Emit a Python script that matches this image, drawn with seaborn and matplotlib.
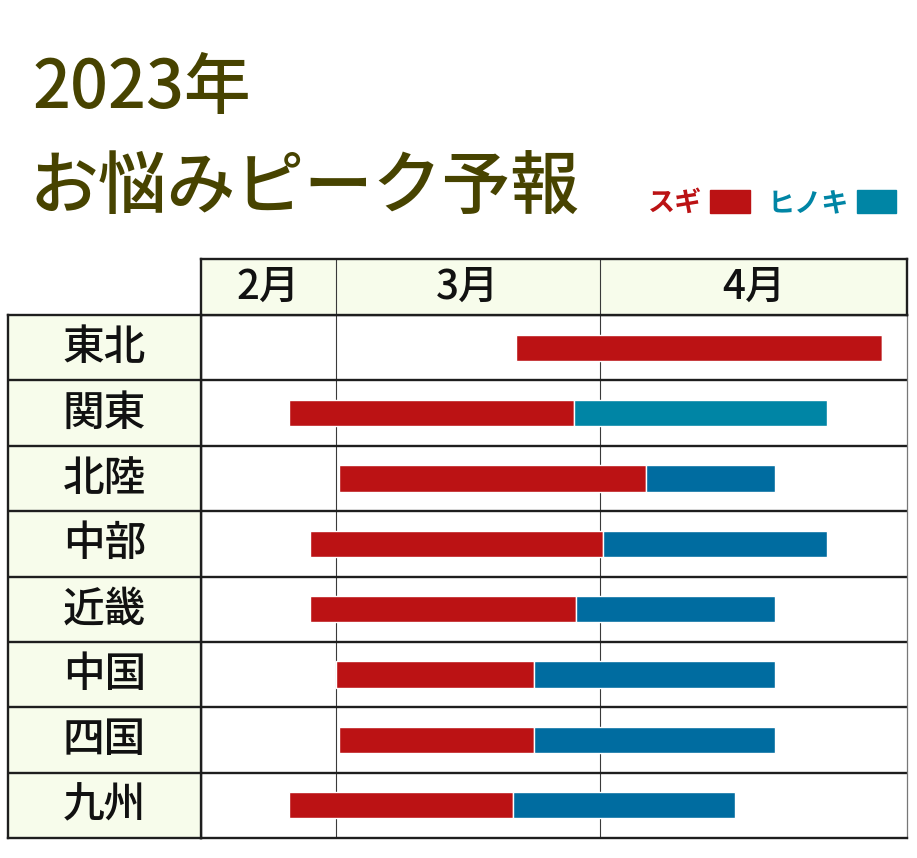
import numpy as np
import matplotlib
matplotlib.use("Agg")
import matplotlib.pyplot as plt
from matplotlib.patches import Patch
import seaborn as sns

# data (month units: 3.5 = middle of March)
regions = ["東北", "関東", "北陸", "中部", "近畿", "中国", "四国", "九州"]
sugi_start = [3.68, 2.65, 3.01, 2.81, 2.81, 3.00, 3.01, 2.65]
sugi_end = [4.92, 3.90, 4.15, 4.01, 3.91, 3.75, 3.75, 3.67]
hinoki_end = [4.92, 4.74, 4.57, 4.74, 4.57, 4.57, 4.57, 4.44]
months = [2, 3, 4]
month_labels = ["2月", "3月", "4月"]
legend_labels = ["スギ", "ヒノキ"]

# style
RED = "#BB1214"
TEAL = "#0085A5"
BLUE = "#006CA0"
PALE = "#F7FCEB"
TITLE_C = "#474300"
LINE_C = "#1E1E1E"
hinoki_colors = [TEAL if r == "関東" else BLUE for r in regions]

sns.set_theme(style="white")
plt.rcParams["font.family"] = ["Noto Sans CJK JP", "DejaVu Sans"]

W, H = 917, 858
fig = plt.figure(figsize=(W / 100, H / 100), dpi=100)

# month columns are not equally wide in the original table
col_px = [0, 135, 399, 706]
edges = [2, 3, 4, 5]


def fwd(v):
    return np.interp(v, edges, col_px)


def inv(p):
    return np.interp(p, col_px, edges)


def fbox(x0, y0, x1, y1):
    return [x0 / W, 1 - y1 / H, (x1 - x0) / W, (y1 - y0) / H]


# body
ax = fig.add_axes(fbox(201, 315, 907, 838))
ax.set_xscale("function", functions=(fwd, inv))
ax.set_xlim(2, 5)
ax.set_ylim(len(regions) - 0.5, -0.5)
y = np.arange(len(regions))
left = np.array(sugi_start)
mid = np.array(sugi_end)
right = np.array(hinoki_end)
ax.barh(y, mid - left, left=left, height=0.4, color=RED, zorder=3)
ax.barh(y, right - mid, left=mid, height=0.4, color=hinoki_colors, zorder=3)
for m in months[1:]:
    ax.axvline(m, color="#3A3A3A", lw=0.8, zorder=1)
for b in np.arange(len(regions) - 1) + 0.5:
    ax.axhline(b, color=LINE_C, lw=1.7, zorder=2)
ax.set_xticks([])
ax.set_yticks([])
for s in ["left", "bottom", "top"]:
    ax.spines[s].set_color(LINE_C)
    ax.spines[s].set_linewidth(1.7)
ax.spines["right"].set_color("#777777")
ax.spines["right"].set_linewidth(0.9)

# header row
hd = fig.add_axes(fbox(201, 259, 907, 315))
hd.set_facecolor(PALE)
hd.set_xscale("function", functions=(fwd, inv))
hd.set_xlim(2, 5)
hd.set_ylim(0, 1)
for m, lab in zip(months, month_labels):
    hd.text(m + 0.5, 0.5, lab, ha="center", va="center", fontsize=29,
            fontweight="medium", color="#111111")
for m in months[1:]:
    hd.axvline(m, color="#3A3A3A", lw=0.8)
hd.set_xticks([])
hd.set_yticks([])
for s in hd.spines.values():
    s.set_color(LINE_C)
    s.set_linewidth(1.7)

# region label column
lb = fig.add_axes(fbox(8, 315, 201, 838))
lb.set_facecolor(PALE)
lb.set_xlim(0, 1)
lb.set_ylim(len(regions) - 0.5, -0.5)
for i, r in enumerate(regions):
    lb.text(0.5, i, r, ha="center", va="center", fontsize=30,
            fontweight="medium", color="#111111")
for b in np.arange(len(regions) - 1) + 0.5:
    lb.axhline(b, color=LINE_C, lw=1.7)
lb.set_xticks([])
lb.set_yticks([])
for s in lb.spines.values():
    s.set_color(LINE_C)
    s.set_linewidth(1.7)

# title
fig.text(33 / W, 1 - 89 / H, "2023年", fontsize=48, fontweight="medium",
         color=TITLE_C, ha="left", va="center")
fig.text(30 / W, 1 - 189 / H, "お悩みピーク予報", fontsize=49.5, fontweight="medium",
         color=TITLE_C, ha="left", va="center")

# legend (text before the box)
handles = [Patch(color=RED), Patch(color=TEAL)]
leg = fig.legend(handles, legend_labels, loc="center right",
                 bbox_to_anchor=(896 / W, 1 - 203 / H), ncol=2, markerfirst=False,
                 frameon=False, fontsize=19.5, handlelength=1.45, handleheight=0.95,
                 handletextpad=0.3, columnspacing=0.65, borderaxespad=0, borderpad=0)
for t, c in zip(leg.get_texts(), [RED, TEAL]):
    t.set_color(c)
    t.set_fontweight("bold")

fig.savefig("out.png", dpi=100)
